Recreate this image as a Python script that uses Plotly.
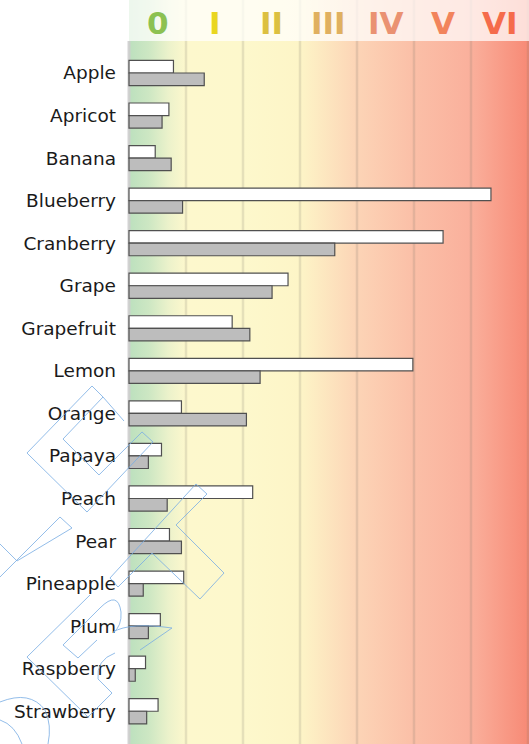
import plotly.graph_objects as go

# ---------------- data ----------------
categories = ["Apple", "Apricot", "Banana", "Blueberry", "Cranberry", "Grape",
              "Grapefruit", "Lemon", "Orange", "Papaya", "Peach", "Pear",
              "Pineapple", "Plum", "Raspberry", "Strawberry"]
series_white = [0.78, 0.70, 0.46, 6.35, 5.51, 2.79, 1.81, 4.98, 0.92, 0.57,
                2.17, 0.71, 0.96, 0.55, 0.29, 0.51]
series_gray = [1.32, 0.58, 0.74, 0.94, 3.61, 2.51, 2.12, 2.30, 2.06, 0.34,
               0.67, 0.92, 0.25, 0.34, 0.11, 0.31]
levels = ["0", "I", "II", "III", "IV", "V", "VI"]
level_colors = ["#8cc152", "#e9d620", "#dcc040", "#e0b060", "#ea9272", "#f2845c", "#f56b4b"]

# ---------------- geometry ----------------
W, H = 529, 744
L = 127            # left margin (pixels)
AX0 = 129          # pixel of value 0
UNIT = 57          # pixels per level
x_lo = -(AX0 - L) / UNIT
x_hi = (W - AX0) / UNIT
HEADER = 41
n = len(categories)
first_c, spacing = 73.0, 42.55
y2_range = [(H - first_c) / spacing, -first_c / spacing]

bg_scale = [
    [0.0, "rgb(188,224,190)"],
    [0.35 / 7, "rgb(205,231,195)"],
    [0.7 / 7, "rgb(236,242,203)"],
    [1.0 / 7, "rgb(253,248,205)"],
    [2.0 / 7, "rgb(253,248,204)"],
    [3.0 / 7, "rgb(253,245,199)"],
    [4.0 / 7, "rgb(252,212,182)"],
    [5.0 / 7, "rgb(251,191,167)"],
    [6.0 / 7, "rgb(250,176,156)"],
    [1.0, "rgb(247,138,118)"],
]

fig = go.Figure()

# background gradient (plot area + header)
fig.add_trace(go.Scatter(
    x=[0, x_hi, x_hi, 0, 0], y=[0, 0, H, H, 0],
    mode="lines", line=dict(width=0), fill="toself",
    fillgradient=dict(type="horizontal", colorscale=bg_scale, start=0, stop=7),
    hoverinfo="skip", showlegend=False))

# grid lines
for i in range(1, 8):
    fig.add_trace(go.Scatter(
        x=[i, i], y=[0, H], mode="lines",
        line=dict(color="rgba(120,115,105,0.18)", width=2.5),
        hoverinfo="skip", showlegend=False))

# left axis strip
fig.add_trace(go.Scatter(
    x=[0, 0], y=[HEADER, H], mode="lines",
    line=dict(color="rgba(205,205,205,0.9)", width=3),
    hoverinfo="skip", showlegend=False))

# header veil
fig.add_trace(go.Scatter(
    x=[0, x_hi, x_hi, 0, 0], y=[0, 0, HEADER, HEADER, 0],
    mode="lines", line=dict(width=0), fill="toself",
    fillcolor="rgba(255,255,255,0.72)",
    hoverinfo="skip", showlegend=False))

# bars
fig.add_trace(go.Bar(
    x=series_white, y=categories, orientation="h", xaxis="x2", yaxis="y2",
    marker=dict(color="white", line=dict(color="#505050", width=1.2)),
    showlegend=False))
fig.add_trace(go.Bar(
    x=series_gray, y=categories, orientation="h", xaxis="x2", yaxis="y2",
    marker=dict(color="#bdbdbd", line=dict(color="#505050", width=1.2)),
    showlegend=False))

# header labels
annotations = []
for i, (lab, col) in enumerate(zip(levels, level_colors)):
    annotations.append(dict(
        x=i + 0.5, y=HEADER / 2 + 2, xref="x", yref="y", text=lab, showarrow=False,
        font=dict(family="DejaVu Sans", size=31, color=col, weight="bold"),
        xanchor="center", yanchor="middle"))

# watermark (decorative outlines)
def px(p):
    return (p[0] - L) / (W - L), 1 - p[1] / H

def poly(points, close=False):
    s = ""
    for k, p in enumerate(points):
        x, y = px(p)
        s += ("M" if k == 0 else "L") + f"{x:.4f},{y:.4f} "
    if close:
        s += "Z"
    return s

def qpath(start, segs):
    x, y = px(start)
    s = f"M{x:.4f},{y:.4f} "
    for c, e in segs:
        cx, cy = px(c)
        ex, ey = px(e)
        s += f"Q{cx:.4f},{cy:.4f} {ex:.4f},{ey:.4f} "
    return s

wm = [
    poly([(92, 386), (27, 453), (87, 512), (153, 442), (142, 432), (99, 475),
          (63, 439), (103, 397), (92, 386)]),
    poly([(103, 397), (124, 421)]),
    poly([(196, 484), (207, 494), (176, 525), (224, 573), (200, 599), (152, 553),
          (118, 587), (110, 578), (196, 484)]),
    poly([(0, 544), (17, 561), (72, 528), (60, 517), (0, 577)]),
    poly([(78, 658), (63, 645), (100, 608)]),
    qpath((100, 608), [((118, 590), (121, 612)), ((122, 626), (113, 633))]),
    poly([(78, 658), (97, 640)]),
    poly([(27, 657), (88, 717), (112, 693), (98, 679)]),
    poly([(27, 657), (90, 595)]),
    qpath((113, 632), [((130, 622), (172, 628))]),
    poly([(172, 628), (140, 650)]),
    qpath((98, 679), [((96, 660), (115, 653))]),
    qpath((0, 702), [((30, 690), (45, 710)), ((52, 725), (48, 744))]),
    qpath((0, 720), [((15, 725), (22, 744))]),
]
shapes = [dict(type="path", path=p, xref="paper", yref="paper",
               line=dict(color="rgba(120,172,228,0.8)", width=1), layer="above")
          for p in wm]

fig.update_layout(
    width=W, height=H,
    margin=dict(l=L, r=0, t=0, b=0),
    paper_bgcolor="white", plot_bgcolor="white",
    barmode="group", bargap=0.41, bargroupgap=0,
    xaxis=dict(range=[x_lo, x_hi], visible=False, fixedrange=True),
    yaxis=dict(range=[H, 0], visible=False, fixedrange=True),
    xaxis2=dict(range=[x_lo, x_hi], overlaying="x", anchor="y2", visible=False),
    yaxis2=dict(type="category", categoryorder="array", categoryarray=categories,
                range=y2_range, overlaying="y", anchor="x2", side="left",
                showgrid=False, zeroline=False, showline=False, ticks="",
                ticklabelstandoff=10,
                tickfont=dict(family="DejaVu Sans", size=18.5, color="#1a1a1a")),
    annotations=annotations,
    shapes=shapes,
    showlegend=False,
)

fig.write_html(
    "out.html",
    config={"displayModeBar": False},
    post_script="document.body.style.margin='0';document.body.style.overflow='hidden';",
)
